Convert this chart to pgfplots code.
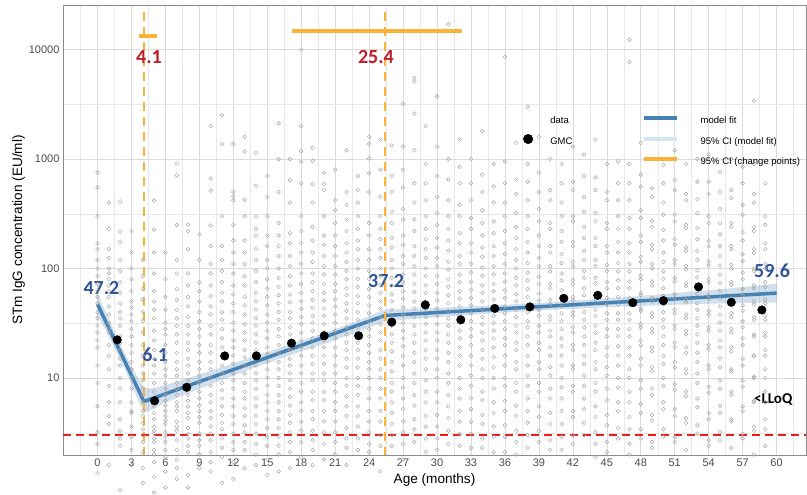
\documentclass[border=0pt]{standalone}
\usepackage{pgfplots}
\pgfplotsset{compat=1.18}
\usepgfplotslibrary{fillbetween}
\usepackage{fontspec}
\setmainfont{Liberation Sans}
\newfontfamily\carlito{Carlito}
\definecolor{fitblue}{RGB}{70,130,180}
\definecolor{cilight}{RGB}{214,227,240}
\definecolor{cporange}{RGB}{251,178,56}
\definecolor{lblred}{RGB}{190,30,40}
\definecolor{lblblue}{RGB}{47,85,151}
\definecolor{llred}{RGB}{232,30,30}

\pgfplotstableread{
x lo hi
0 37.5 59.4
1 23.8 34.5
2 14.8 20.4
3 8.8 12.7
3.6 6.2 9.9
4.1 4.8 8.2
4.6 5.05 8.0
6 5.96 8.6
8 7.2 10.0
10 8.77 11.6
15 13.7 17.3
20 20.4 25.7
23 26.4 33.2
25.4 32.8 42.2
28 34.7 42.8
32 37.1 44.6
36 39.7 46.6
40 41.9 49.2
45 44.3 53.3
50 46.3 58.3
55 48.0 64.6
60 49.0 72.5
}\ribbon

\begin{document}
\begin{tikzpicture}
\begin{axis}[
  scale only axis, width=743pt, height=450pt,
  xmin=-3.05, xmax=62.6,
  ymode=log, ymin=1.98, ymax=25500,
  clip=false,
  xtick={0,3,...,60},
  minor xtick={-1.5,1.5,4.5,...,61.5},
  ytick={10,100,1000,10000},
  yticklabels={10,100,1000,10000},
  minor ytick={3.1623,31.623,316.23,3162.3},
  grid=both,
  major grid style={black!14, line width=0.6pt},
  minor grid style={black!9, line width=0.4pt},
  axis line style={black!45, line width=0.9pt},
  major tick length=0pt, minor tick length=0pt,
  /pgf/number format/assume math mode=true,
  ticklabel style={font=\fontsize{11}{12}\selectfont, text=black!70},
  xlabel={Age (months)},
  ylabel={STm IgG concentration (EU/ml)},
  label style={font=\fontsize{13.6}{15}\selectfont},
  xlabel style={yshift=0pt},
  ylabel style={yshift=-3pt},
  legend columns=2,
  legend cell align=left,
  legend style={at={(rel axis cs:0.619,0.757)}, anchor=north west, draw=none, fill=none,
    inner sep=0pt, row sep=6.5pt, column sep=0pt,
    font=\fontsize{9.5}{11}\selectfont,
    nodes={text height=7pt, text depth=2pt, inner sep=2pt},
    /tikz/every even column/.append style={column sep=68pt}},
  rawdata/.style={forget plot, only marks, mark=o, mark size=1.9pt, draw=black!36, mark options={line width=0.45pt}},
]
% legend entries
\addlegendimage{empty legend}
\addlegendentry{data}
\addlegendimage{legend image code/.code={\draw[fitblue,line width=4pt] (0pt,3.3pt)--(33pt,3.3pt); \path (54pt,3.3pt);}}
\addlegendentry{model fit}
\addlegendimage{legend image code/.code={\fill[black] (0pt,3.3pt) circle (4.8pt); \path (20pt,3.3pt);}}
\addlegendentry{GMC}
\addlegendimage{legend image code/.code={\draw[cilight,line width=4pt] (0pt,3.3pt)--(33pt,3.3pt); \path (54pt,3.3pt);}}
\addlegendentry{95\% CI (model fit)}
\addlegendimage{empty legend}
\addlegendentry{}
\addlegendimage{legend image code/.code={\draw[cporange,line width=4pt] (0pt,3.3pt)--(33pt,3.3pt); \path (54pt,3.3pt);}}
\addlegendentry{95\% CI (change points)}

% raw data (set 1)
\addplot[rawdata] coordinates {
(0,750)(0,550)(0,150)(0,120)(0,100)(0,85)(0,62)(0,48)(0,40)(0,35)(0,22)(0,19)(0,13)(0,5.5)(0,2.5)(0,1.35)
(1,230)(1,150)(1,125)(1,100)(1,80)(1,62)(1,45)(1,32)(1,26)(1,20)(1,16)(1,8.5)(1,4.5)(1,3.8)
(2,410)(2,216)(2,175)(2,120)(2,75)(2,48)(2,40)(2,30)(2,24)(2,18)(2,13)(2,8)(2,4.2)(2,3.3)(2,2.4)(2,0.95)
(3,140)(3,100)(3,62)(3,50)(3,38)(3,28)(3,20)(3,14)(3,10)(3,6)(3,4.8)(3,3.6)(3,2.2)(3,1.6)
(4,85)(4,52)(4,40)(4,26)(4,16)(4,11)(4,8)(4,6)(4,4.5)(4,3.4)(4,2.6)(4,2.1)(4,1.5)(4,1.1)
(5,418)(5,227)(5,62)(5,50)(5,35)(5,22)(5,15)(5,11)(5,9)(5,7.5)(5,6.5)(5,5.5)(5,4.8)(5,4.2)(5,3.6)(5,3.1)(5,2.6)(5,2.2)(5,1.7)(5,1.25)
(6,140)(6,55)(6,32)(6,25)(6,17)(6,12)(6,9)(6,7)(6,5.6)(6,4.5)(6,3.8)(6,3.2)(6,2.6)(6,2.2)(6,1.4)(6,1.0)
(7,910)(7,710)(7,120)(7,65)(7,42)(7,30)(7,21)(7,14)(7,10.5)(7,8)(7,6)(7,5)(7,4)(7,3.3)(7,2.7)(7,2.2)(7,1.8)(7,1.2)
(8,252)(8,219)(8,90)(8,55)(8,36)(8,25)(8,18)(8,13)(8,9.5)(8,7)(8,5.5)(8,4.3)(8,3.5)(8,2.8)(8,2.1)(8,1.3)
(9,205)(9,75)(9,50)(9,33)(9,24)(9,17)(9,12)(9,9)(9,6.5)(9,5)(9,3.9)(9,3.1)(9,2.4)(9,1.5)
(10,1995)(10,663)(10,514)(10,247)(10,110)(10,70)(10,45)(10,30)(10,20)(10,14)(10,10)(10,7)(10,5)(10,3.6)(10,2.7)(10,2.1)(10,1.4)
(11,2500)(11,1370)(11,160)(11,95)(11,60)(11,40)(11,28)(11,19)(11,13)(11,9)(11,6.5)(11,4.6)(11,3.4)(11,2.3)(11,1.1)
(12,1370)(12,500)(12,455)(12,420)(12,180)(12,110)(12,70)(12,48)(12,32)(12,22)(12,16)(12,11)(12,8)(12,5.5)(12,3.8)(12,2.6)(12,1.7)
(13,1590)(13,1170)(13,425)(13,140)(13,85)(13,55)(13,38)(13,26)(13,18)(13,13)(13,9)(13,6.5)(13,4.5)(13,3.2)(13,2.2)
(14,1140)(14,570)(14,300)(14,230)(14,150)(14,95)(14,60)(14,42)(14,30)(14,21)(14,15)(14,11)(14,8)(14,5.5)(14,3.8)(14,2.5)(14,1.6)
(15,450)(15,200)(15,120)(15,80)(15,55)(15,38)(15,27)(15,19)(15,14)(15,10)(15,7)(15,5)(15,3.5)(15,2.4)(15,1.3)
(16,2120)(16,995)(16,260)(16,160)(16,100)(16,68)(16,48)(16,34)(16,24)(16,17)(16,12)(16,8.5)(16,6)(16,4.2)(16,2.9)(16,2.0)
(17,640)(17,210)(17,130)(17,85)(17,58)(17,40)(17,29)(17,21)(17,15)(17,11)(17,8)(17,5.6)(17,3.9)(17,2.6)(17,1.5)
(18,10000)(18,2010)(18,1180)(18,940)(18,300)(18,170)(18,110)(18,72)(18,50)(18,36)(18,26)(18,19)(18,13)(18,9)(18,6)(18,4)(18,2.6)
(19,1270)(19,960)(19,590)(19,240)(19,140)(19,90)(19,62)(19,44)(19,32)(19,23)(19,16)(19,11)(19,7.5)(19,5)(19,3.3)(19,2.2)
(20,750)(20,590)(20,520)(20,200)(20,130)(20,88)(20,60)(20,43)(20,31)(20,22)(20,16)(20,11)(20,7.5)(20,5)(20,3.2)(20,1.8)
(21,420)(21,260)(21,160)(21,105)(21,72)(21,52)(21,38)(21,27)(21,19)(21,13)(21,9)(21,6)(21,4)(21,2.6)
(22,380)(22,220)(22,140)(22,95)(22,66)(22,48)(22,35)(22,25)(22,18)(22,12.5)(22,8.5)(22,5.5)(22,3.5)(22,2.3)
(23,520)(23,300)(23,180)(23,120)(23,80)(23,56)(23,40)(23,29)(23,21)(23,15)(23,10)(23,7)(23,4.5)(23,2.8)
(24,1600)(24,1370)(24,1010)(24,740)(24,260)(24,150)(24,95)(24,65)(24,46)(24,33)(24,24)(24,17)(24,12)(24,8)(24,5)(24,3.2)(24,2.1)
(25,1500)(25,450)(25,230)(25,150)(25,100)(25,70)(25,50)(25,36)(25,26)(25,18)(25,12)(25,8)(25,5)(25,3)(25,1.4)
(26,1330)(26,700)(26,330)(26,190)(26,120)(26,82)(26,58)(26,42)(26,30)(26,21)(26,14)(26,9)(26,6)(26,3.8)(26,2.4)
(27,3200)(27,800)(27,350)(27,200)(27,130)(27,88)(27,62)(27,44)(27,32)(27,23)(27,16)(27,10)(27,6.5)(27,4)(27,2.5)
(28,5500)(28,5100)(28,2600)(28,600)(28,280)(28,160)(28,105)(28,72)(28,50)(28,36)(28,25)(28,17)(28,11)(28,7)(28,4.2)(28,2.6)
(29,900)(29,420)(29,230)(29,150)(29,100)(29,70)(29,50)(29,36)(29,26)(29,18)(29,12)(29,7.5)(29,4.5)(29,2.8)
(30,3730)(30,700)(30,320)(30,190)(30,125)(30,85)(30,60)(30,43)(30,31)(30,22)(30,15)(30,10)(30,6)(30,3.6)(30,2.2)
(31,17000)(31,650)(31,300)(31,180)(31,115)(31,80)(31,57)(31,41)(31,30)(31,21)(31,14)(31,9)(31,5.5)(31,3.3)
(32,1510)(32,850)(32,380)(32,210)(32,130)(32,88)(32,62)(32,45)(32,32)(32,23)(32,16)(32,10)(32,6.5)(32,4)(32,2.4)
(33,600)(33,290)(33,170)(33,110)(33,76)(33,54)(33,39)(33,28)(33,20)(33,13)(33,8.5)(33,5.2)(33,3.1)
(34,720)(34,340)(34,200)(34,128)(34,86)(34,60)(34,43)(34,31)(34,22)(34,15)(34,10)(34,6.3)(34,3.8)(34,2.3)
(35,560)(35,270)(35,160)(35,105)(35,72)(35,52)(35,37)(35,27)(35,19)(35,12.5)(35,8)(35,4.8)(35,2.9)
(36,8600)(36,950)(36,400)(36,220)(36,135)(36,90)(36,63)(36,45)(36,33)(36,23)(36,16)(36,10)(36,6.2)(36,3.7)(36,2.1)
(37,480)(37,240)(37,150)(37,100)(37,70)(37,50)(37,36)(37,26)(37,18)(37,12)(37,7.5)(37,4.5)(37,2.6)
(38,3000)(38,620)(38,300)(38,175)(38,112)(38,78)(38,55)(38,40)(38,29)(38,20)(38,13)(38,8.5)(38,5)(38,3)
(39,750)(39,350)(39,200)(39,125)(39,84)(39,59)(39,42)(39,30)(39,21)(39,14)(39,9)(39,5.5)(39,3.3)
(40,520)(40,260)(40,160)(40,105)(40,72)(40,52)(40,37)(40,27)(40,19)(40,12.5)(40,8)(40,4.8)(40,2.7)
(41,900)(41,400)(41,220)(41,135)(41,90)(41,63)(41,45)(41,33)(41,23)(41,16)(41,10)(41,6.5)(41,3.8)(41,2.2)
(42,620)(42,300)(42,175)(42,115)(42,78)(42,55)(42,40)(42,29)(42,20)(42,13)(42,8.5)(42,5)(42,3)
(43,1100)(43,450)(43,240)(43,145)(43,95)(43,66)(43,47)(43,34)(43,24)(43,16)(43,10.5)(43,6.5)(43,3.9)
(44,680)(44,320)(44,190)(44,120)(44,82)(44,58)(44,42)(44,30)(44,21)(44,14)(44,9)(44,5.5)(44,3.2)(44,1.9)
(45,500)(45,260)(45,160)(45,108)(45,75)(45,54)(45,39)(45,28)(45,19)(45,12.5)(45,8)(45,4.6)(45,2.6)
(46,950)(46,420)(46,230)(46,140)(46,94)(46,66)(46,47)(46,34)(46,24)(46,16)(46,10)(46,6)(46,3.5)
(47,12300)(47,7700)(47,600)(47,290)(47,170)(47,110)(47,76)(47,54)(47,39)(47,28)(47,19)(47,12)(47,7.5)(47,4.4)(47,2.5)
(48,720)(48,340)(48,200)(48,128)(48,86)(48,60)(48,43)(48,31)(48,22)(48,15)(48,9.5)(48,5.8)(48,3.4)
(49,540)(49,270)(49,165)(49,110)(49,76)(49,54)(49,39)(49,28)(49,19)(49,12.5)(49,8)(49,4.6)(49,2.6)
(50,880)(50,400)(50,225)(50,140)(50,94)(50,66)(50,47)(50,34)(50,24)(50,16)(50,10)(50,6)(50,3.4)
(51,640)(51,310)(51,185)(51,120)(51,82)(51,58)(51,42)(51,30)(51,21)(51,14)(51,8.8)(51,5.2)(51,2.9)
(52,480)(52,250)(52,155)(52,105)(52,73)(52,52)(52,38)(52,27)(52,19)(52,12)(52,7.5)(52,4.3)
(53,1000)(53,430)(53,235)(53,145)(53,96)(53,67)(53,48)(53,35)(53,25)(53,17)(53,11)(53,6.5)(53,3.7)
(54,620)(54,300)(54,178)(54,116)(54,80)(54,57)(54,41)(54,29)(54,20)(54,13)(54,8.3)(54,4.8)(54,2.7)
(55,760)(55,350)(55,205)(55,130)(55,88)(55,62)(55,45)(55,32)(55,22)(55,15)(55,9.5)(55,5.6)(55,3.2)
(56,520)(56,260)(56,160)(56,108)(56,75)(56,54)(56,39)(56,28)(56,19)(56,12)(56,7.5)(56,4.2)
(57,850)(57,380)(57,215)(57,135)(57,92)(57,65)(57,46)(57,33)(57,23)(57,15)(57,9.5)(57,5.5)(57,3.1)
(58,3400)(58,480)(58,240)(58,150)(58,100)(58,70)(58,50)(58,36)(58,25)(58,16)(58,10)(58,6)(58,3.3)
(59,300)(59,170)(59,110)(59,75)(59,52)(59,37)(59,26)(59,18)(59,12)(59,7.5)(59,4.2)(59,2.4)
};
% raw data (set 2)
\addplot[rawdata] coordinates {
(0,300)(0,170)(0,72)(0,55)(0,30)(0,26)(0,9)(0,3.2)
(1,400)(1,90)(1,70)(1,55)(1,38)(1,28)(1,12)(1,6)(1,1.6)
(2,95)(2,60)(2,35)(2,21)(2,15)(2,10)(2,6)(2,2.8)
(3,220)(3,80)(3,44)(3,33)(3,24)(3,17)(3,12)(3,8)(3,5)(3,2.9)
(4,120)(4,65)(4,33)(4,20)(4,13)(4,9.5)(4,7)(4,5)(4,3.9)(4,3.0)
(5,140)(5,90)(5,42)(5,27)(5,18)(5,13)(5,3.3)(5,2.8)(5,2.0)(5,0.9)
(6,80)(6,42)(6,28)(6,20)(6,14)(6,10.5)(6,8)(6,6.2)(6,5)(6,4.1)(6,2.9)(6,1.9)
(7,250)(7,90)(7,52)(7,35)(7,25)(7,17)(7,12)(7,9)(7,7)(7,5.5)(7,3.6)(7,1.5)
(8,150)(8,70)(8,45)(8,30)(8,21)(8,15)(8,11)(8,8)(8,6.2)(8,4.8)(8,3.1)(8,2.4)(8,1.0)
(9,120)(9,62)(9,40)(9,28)(9,20)(9,14)(9,10.5)(9,7.5)(9,5.6)(9,4.4)(9,2.7)(9,2.0)
(10,160)(10,90)(10,56)(10,38)(10,25)(10,17)(10,12)(10,8.5)(10,6)(10,4.3)(10,3.1)(10,1.7)
(11,300)(11,120)(11,75)(11,50)(11,34)(11,23)(11,16)(11,11)(11,7.7)(11,5.5)(11,3.9)(11,2.8)(11,1.9)
(12,250)(12,140)(12,90)(12,58)(12,40)(12,27)(12,19)(12,13.5)(12,9.5)(12,6.5)(12,4.5)(12,3.1)(12,2.2)(12,1.2)
(13,300)(13,180)(13,110)(13,70)(13,46)(13,31)(13,22)(13,15.5)(13,11)(13,7.5)(13,5.3)(13,3.7)(13,2.6)(13,1.5)
(14,200)(14,120)(14,75)(14,50)(14,35)(14,25)(14,18)(14,13)(14,9.5)(14,6.5)(14,4.5)(14,3.1)(14,2.0)
(15,700)(15,300)(15,160)(15,100)(15,66)(15,46)(15,32)(15,23)(15,16.5)(15,12)(15,8.5)(15,6)(15,4.2)(15,2.9)(15,1.8)
(16,500)(16,200)(16,130)(16,82)(16,57)(16,40)(16,28)(16,20)(16,14)(16,10)(16,7)(16,5)(16,3.5)(16,2.4)(16,1.4)
(17,1000)(17,400)(17,170)(17,105)(17,70)(17,49)(17,35)(17,25)(17,18)(17,13)(17,9.5)(17,6.7)(17,4.6)(17,3.2)(17,2.1)
(18,600)(18,220)(18,140)(18,90)(18,60)(18,43)(18,31)(18,22)(18,16)(18,11)(18,7.5)(18,5)(18,3.3)(18,1.9)
(19,400)(19,180)(19,115)(19,75)(19,52)(19,37)(19,27)(19,19)(19,13.5)(19,9.5)(19,6.3)(19,4.2)(19,2.7)(19,1.6)
(20,300)(20,165)(20,105)(20,72)(20,51)(20,37)(20,26)(20,19)(20,13.5)(20,9.5)(20,6.3)(20,4)(20,2.5)
(21,800)(21,340)(21,200)(21,130)(21,88)(21,62)(21,45)(21,32)(21,23)(21,16)(21,11)(21,7.5)(21,5)(21,3.2)(21,2.0)
(22,1200)(22,500)(22,280)(22,170)(22,115)(22,80)(22,57)(22,41)(22,29)(22,21)(22,15)(22,10)(22,6.8)(22,4.5)(22,2.8)(22,1.6)
(23,700)(23,400)(23,230)(23,150)(23,100)(23,68)(23,48)(23,34)(23,25)(23,18)(23,12.5)(23,8.5)(23,5.5)(23,3.6)(23,2.2)
(24,500)(24,200)(24,120)(24,80)(24,55)(24,39)(24,28)(24,20)(24,14)(24,10)(24,6.5)(24,4)(24,2.5)
(25,800)(25,300)(25,185)(25,125)(25,85)(25,60)(25,43)(25,31)(25,22)(25,15)(25,10)(25,6.5)(25,4)(25,2.4)
(26,500)(26,260)(26,155)(26,100)(26,70)(26,50)(26,36)(26,25)(26,17.5)(26,11.5)(26,7.5)(26,4.8)(26,3.0)
(27,1300)(27,550)(27,280)(27,165)(27,110)(27,75)(27,53)(27,38)(27,27)(27,19.5)(27,13)(27,8.2)(27,5.2)(27,3.2)(27,1.8)
(28,1200)(28,400)(28,220)(28,130)(28,88)(28,61)(28,43)(28,30)(28,21)(28,14)(28,9)(28,5.6)(28,3.4)
(29,2000)(29,600)(29,300)(29,185)(29,125)(29,85)(29,60)(29,43)(29,31)(29,22)(29,15)(29,9.5)(29,6)(29,3.6)(29,2.1)
(30,1300)(30,450)(30,250)(30,155)(30,105)(30,72)(30,51)(30,37)(30,26)(30,18)(30,12)(30,7.5)(30,4.6)(30,2.8)
(31,1000)(31,420)(31,230)(31,145)(31,98)(31,68)(31,48)(31,35)(31,25)(31,17)(31,11)(31,7)(31,4.3)(31,2.5)
(32,600)(32,300)(32,170)(32,110)(32,75)(32,53)(32,38)(32,27)(32,19)(32,13)(32,8)(32,5)(32,3.1)
(33,1000)(33,420)(33,230)(33,140)(33,92)(33,64)(33,46)(33,33)(33,24)(33,16)(33,10.5)(33,6.5)(33,4)(33,2.3)
(34,1800)(34,500)(34,260)(34,155)(34,102)(34,70)(34,50)(34,36)(34,26)(34,18)(34,12)(34,7.5)(34,4.6)(34,2.8)
(35,900)(35,400)(35,210)(35,130)(35,88)(35,62)(35,44)(35,32)(35,23)(35,15.5)(35,10)(35,6)(35,3.6)(35,2.1)
(36,600)(36,300)(36,170)(36,110)(36,76)(36,54)(36,39)(36,28)(36,20)(36,13)(36,8.5)(36,5)(36,2.9)
(37,1400)(37,650)(37,320)(37,190)(37,120)(37,82)(37,58)(37,42)(37,30)(37,21)(37,14)(37,9)(37,5.6)(37,3.3)(37,2.0)
(38,900)(38,420)(38,230)(38,140)(38,92)(38,65)(38,46)(38,33)(38,24)(38,16)(38,10.5)(38,6.5)(38,3.9)(38,2.3)
(39,1600)(39,500)(39,270)(39,160)(39,105)(39,72)(39,51)(39,37)(39,26)(39,18)(39,12)(39,7.5)(39,4.4)(39,2.6)
(40,1000)(40,420)(40,230)(40,140)(40,94)(40,66)(40,47)(40,34)(40,24)(40,16)(40,10.5)(40,6.5)(40,3.8)(40,2.2)
(41,600)(41,300)(41,175)(41,112)(41,78)(41,55)(41,39)(41,28)(41,19.5)(41,13)(41,8.2)(41,5)(41,2.9)
(42,1300)(42,520)(42,270)(42,160)(42,105)(42,72)(42,51)(42,37)(42,26)(42,18)(42,12)(42,7.5)(42,4.4)(42,2.5)
(43,700)(43,330)(43,190)(43,120)(43,82)(43,57)(43,40)(43,29)(43,20)(43,13.5)(43,8.5)(43,5.2)(43,3.0)
(44,1500)(44,520)(44,270)(44,160)(44,105)(44,73)(44,52)(44,37)(44,26)(44,18)(44,12)(44,7.5)(44,4.4)(44,2.5)
(45,900)(45,420)(45,230)(45,140)(45,95)(45,66)(45,47)(45,34)(45,24)(45,16)(45,10.5)(45,6.3)(45,3.7)(45,2.1)
(46,600)(46,300)(46,175)(46,112)(46,78)(46,55)(46,39)(46,28)(46,19.5)(46,13)(46,8.2)(46,5)(46,2.8)
(47,900)(47,420)(47,230)(47,140)(47,94)(47,66)(47,47)(47,34)(47,24)(47,16)(47,10)(47,6)(47,3.4)(47,2.0)
(48,1400)(48,560)(48,290)(48,175)(48,115)(48,80)(48,57)(48,41)(48,29)(48,20)(48,13)(48,8)(48,4.8)(48,2.8)
(49,1000)(49,450)(49,240)(49,150)(49,100)(49,70)(49,50)(49,36)(49,26)(49,17.5)(49,11.5)(49,7)(49,4.1)(49,2.3)
(50,600)(50,310)(50,180)(50,115)(50,80)(50,56)(50,40)(50,29)(50,20)(50,13.5)(50,8.5)(50,5.2)(50,2.9)
(51,1200)(51,520)(51,270)(51,165)(51,110)(51,76)(51,54)(51,39)(51,28)(51,19)(51,12.5)(51,7.8)(51,4.5)(51,2.6)
(52,900)(52,420)(52,235)(52,145)(52,98)(52,69)(52,49)(52,35)(52,25)(52,17)(52,11)(52,6.8)(52,3.9)(52,2.2)
(53,620)(53,320)(53,185)(53,120)(53,83)(53,59)(53,42)(53,30)(53,21)(53,14)(53,9)(53,5.4)(53,3.1)
(54,1100)(54,480)(54,260)(54,160)(54,107)(54,75)(54,53)(54,38)(54,27)(54,18.5)(54,12)(54,7.3)(54,4.2)(54,2.4)
(55,500)(55,260)(55,160)(55,106)(55,74)(55,53)(55,38)(55,27)(55,19)(55,12.5)(55,8)(55,4.8)(55,2.7)
(56,1000)(56,440)(56,240)(56,150)(56,100)(56,71)(56,50)(56,36)(56,26)(56,17.5)(56,11.5)(56,7)(56,4)(56,2.3)
(57,600)(57,310)(57,180)(57,117)(57,80)(57,57)(57,41)(57,29)(57,20)(57,13)(57,8.3)(57,5)(57,2.8)
(58,900)(58,400)(58,220)(58,138)(58,94)(58,66)(58,47)(58,34)(58,24)(58,16)(58,10.3)(58,6.2)(58,3.6)(58,2.0)
(59,600)(59,250)(59,150)(59,100)(59,68)(59,48)(59,34)(59,24)(59,16)(59,10)(59,6)(59,3.4)
};

% ribbon
\addplot[forget plot, name path=lo, draw=none] table[x=x,y=lo]{\ribbon};
\addplot[forget plot, name path=hi, draw=none] table[x=x,y=hi]{\ribbon};
\addplot[forget plot, fill=fitblue, fill opacity=0.25, draw=none] fill between[of=lo and hi];

% model fit
\addplot[forget plot, fitblue, line width=3.5pt, line join=round] coordinates {(0,47.2)(4.1,6.1)(25.4,37.2)(60,59.6)};

% GMC
\addplot[forget plot, only marks, mark=*, mark size=4.3pt, black] coordinates {
(1.74,22.3)(5.04,6.19)(7.88,8.22)(11.24,15.9)(14.04,15.9)(17.14,20.8)(20.03,24.3)(23.07,24.3)
(26.0,32.4)(28.96,46.5)(32.1,34.0)(35.1,43.2)(38.2,44.6)(41.2,53.4)(44.2,56.9)(47.3,48.7)
(50.0,50.8)(53.1,67.9)(56.0,49.1)(58.7,41.8)};

% change points
\addplot[forget plot, cporange, line width=1.8pt, dash pattern=on 9pt off 6pt] coordinates {(4.1,22000)(4.1,1.98)};
\addplot[forget plot, cporange, line width=1.8pt, dash pattern=on 9pt off 6pt] coordinates {(25.4,22000)(25.4,1.98)};
\addplot[forget plot, cporange, line width=4pt] coordinates {(3.7,13360)(5.23,13360)};
\addplot[forget plot, cporange, line width=4pt] coordinates {(17.15,14850)(32.2,14850)};

% LLoQ
\addplot[forget plot, llred, line width=1.6pt, dash pattern=on 8pt off 5pt] coordinates {(-3.05,3)(62.6,3)};

% labels
\node[text=lblred, font=\carlito\bfseries\fontsize{20}{20}\selectfont] at (axis cs:4.55,8600) {4.1};
\node[text=lblred, font=\carlito\bfseries\fontsize{20}{20}\selectfont] at (axis cs:24.6,8600) {25.4};
\node[text=lblblue, font=\carlito\bfseries\fontsize{20}{20}\selectfont] at (axis cs:0.35,66.5) {47.2};
\node[text=lblblue, font=\carlito\bfseries\fontsize{20}{20}\selectfont] at (axis cs:5.1,16.3) {6.1};
\node[text=lblblue, font=\carlito\bfseries\fontsize{20}{20}\selectfont] at (axis cs:25.5,76.5) {37.2};
\node[text=lblblue, font=\carlito\bfseries\fontsize{20}{20}\selectfont] at (axis cs:59.6,94.4) {59.6};
\node[text=black, font=\carlito\bfseries\fontsize{15}{15}\selectfont] at (axis cs:59.7,6.3) {<LLoQ};
\end{axis}
\path (-63pt,-38pt) rectangle (744pt,455pt);
\end{tikzpicture}
\end{document}
